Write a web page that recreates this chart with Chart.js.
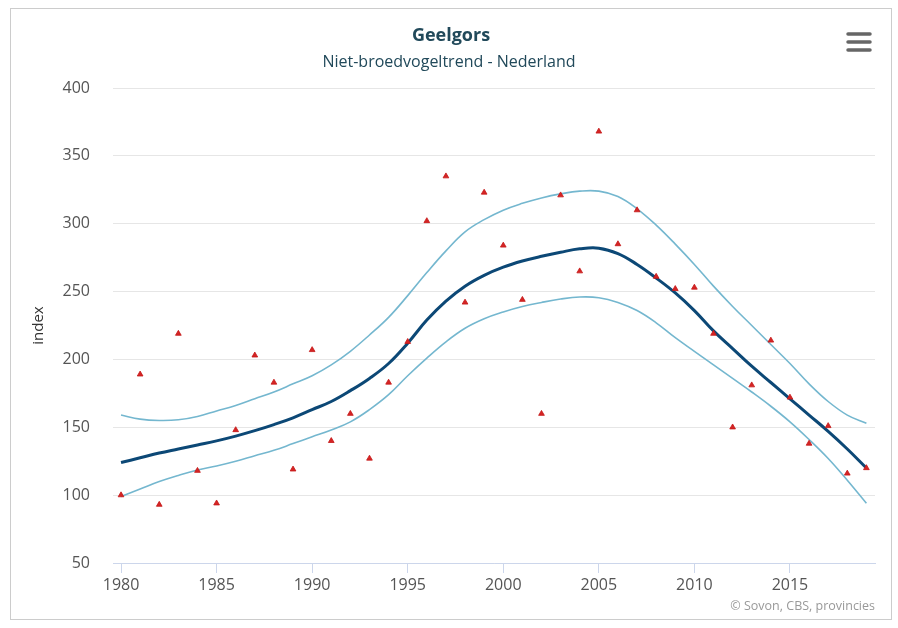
<!DOCTYPE html>
<html lang="nl">
<head>
<meta charset="utf-8">
<title>Geelgors - Niet-broedvogeltrend - Nederland</title>
<script src="https://cdn.jsdelivr.net/npm/chart.js@4/dist/chart.umd.min.js"></script>
<style>
  html, body { margin: 0; padding: 0; background: #ffffff; }
  #chartBox { position: relative; width: 898px; height: 628px; }
</style>
</head>
<body>
<div id="chartBox"><canvas id="trendChart" width="898" height="628"></canvas></div>
<script>
// Telseizoenen
const years = [
  1980, 1981, 1982, 1983, 1984, 1985, 1986, 1987, 1988, 1989,
  1990, 1991, 1992, 1993, 1994, 1995, 1996, 1997, 1998, 1999,
  2000, 2001, 2002, 2003, 2004, 2005, 2006, 2007, 2008, 2009,
  2010, 2011, 2012, 2013, 2014, 2015, 2016, 2017, 2018, 2019
];

// Jaarindex (1980 = 100)
const yearlyIndex = [
  100, 189, 93, 219, 118, 94, 148, 203, 183, 119,
  207, 140, 160, 127, 183, 213, 302, 335, 242, 323,
  284, 244, 160, 321, 265, 368, 285, 310, 261, 252,
  253, 219, 150, 181, 214, 172, 138, 151, 116, 120
];

// Trendlijn
const trendIndex = [
  124, 127.5, 131, 134, 137, 140, 143.5, 147.5, 152, 157,
  163, 169, 177, 186, 197, 212, 229, 243, 254, 262,
  268, 272.5, 276, 279, 281.5, 282, 278, 270, 260, 249,
  236, 221, 208, 195, 183, 171, 159, 147, 134, 120
];

// Betrouwbaarheidsband
const upperBound = [
  159, 156, 155, 155.5, 158, 162, 166, 171, 176, 182,
  188, 196, 206, 218, 231, 247, 264, 280, 294, 303,
  310, 315, 319, 322, 324, 324, 320, 311, 299, 285,
  270, 254, 239, 225, 211, 197, 182, 169, 159, 153
];

const lowerBound = [
  99, 104.5, 110, 114.5, 118.5, 121.5, 125, 129, 133, 138,
  143, 148, 154, 163, 174, 188, 201, 213, 223, 230,
  235, 239, 242, 244.5, 246, 245.5, 242, 236, 227, 216,
  206, 196, 186, 176, 165.5, 154, 141, 127, 111, 94
];

const xTicks = [1980, 1985, 1990, 1995, 2000, 2005, 2010, 2015];
const yTicks = [50, 100, 150, 200, 250, 300, 350, 400];

const FONT = '"Open Sans", "Liberation Sans", Arial, sans-serif';
const TITLE_COLOR = '#21495a';
const LABEL_COLOR = '#555555';
const AXIS_COLOR = '#ccd6eb';
const GRID_COLOR = '#e6e6e6';

function toPoints(values) {
  return years.map((year, i) => ({ x: year, y: values[i] }));
}

/**
 * Frame, titles, export menu icon and credits
 */
const chartDecorations = {
  id: 'chartDecorations',
  beforeDraw(chart) {
    const ctx = chart.ctx;
    ctx.save();
    ctx.fillStyle = '#ffffff';
    ctx.fillRect(0, 0, chart.width, chart.height);
    ctx.strokeStyle = '#cccccc';
    ctx.lineWidth = 1;
    ctx.strokeRect(10.5, 8.5, 881, 611);
    ctx.restore();
  },
  afterDraw(chart) {
    const ctx = chart.ctx;
    ctx.save();
    ctx.textAlign = 'center';
    ctx.textBaseline = 'alphabetic';
    ctx.fillStyle = TITLE_COLOR;
    ctx.font = 'bold 18px ' + FONT;
    ctx.fillText('Geelgors', 451, 41);
    ctx.font = '16px ' + FONT;
    ctx.fillText('Niet-broedvogeltrend - Nederland', 449, 67);

    // hamburger menu
    ctx.strokeStyle = '#666666';
    ctx.lineWidth = 3.5;
    ctx.lineCap = 'round';
    [34, 42, 50].forEach(y => {
      ctx.beginPath();
      ctx.moveTo(848, y);
      ctx.lineTo(870, y);
      ctx.stroke();
    });

    ctx.textAlign = 'right';
    ctx.fillStyle = '#999999';
    ctx.font = '12.5px ' + FONT;
    ctx.fillText('\u00a9 Sovon, CBS, provincies', 875, 610);
    ctx.restore();
  }
};

const lineDefaults = {
  pointRadius: 0,
  pointHoverRadius: 0,
  fill: false,
  tension: 0.4
};

const config = {
  type: 'line',
  data: {
    datasets: [
      {
        label: 'Index',
        data: toPoints(yearlyIndex),
        showLine: false,
        pointStyle: 'triangle',
        pointRadius: 3.3,
        pointHoverRadius: 4.5,
        pointBackgroundColor: '#d52424',
        pointBorderColor: '#c41616',
        pointBorderWidth: 0.8,
        order: 0
      },
      Object.assign({
        label: 'Trend',
        data: toPoints(trendIndex),
        borderColor: '#0c4876',
        borderWidth: 3,
        order: 1
      }, lineDefaults),
      Object.assign({
        label: 'Bovengrens',
        data: toPoints(upperBound),
        borderColor: '#74b7cf',
        borderWidth: 1.6,
        order: 2
      }, lineDefaults),
      Object.assign({
        label: 'Ondergrens',
        data: toPoints(lowerBound),
        borderColor: '#74b7cf',
        borderWidth: 1.6,
        order: 2
      }, lineDefaults)
    ]
  },
  options: {
    responsive: false,
    animation: false,
    devicePixelRatio: 1,
    layout: { padding: { top: 88, right: 23, bottom: 0, left: 0 } },
    plugins: {
      legend: { display: false },
      title: { display: false },
      tooltip: { enabled: true }
    },
    scales: {
      x: {
        type: 'linear',
        min: 1979.58,
        max: 2019.45,
        afterBuildTicks: scale => { scale.ticks = xTicks.map(v => ({ value: v })); },
        afterFit: scale => { scale.height = 65; },
        ticks: {
          color: LABEL_COLOR,
          font: { family: FONT, size: 16 },
          padding: 3,
          maxRotation: 0,
          callback: value => String(value)
        },
        grid: {
          drawOnChartArea: false,
          drawTicks: true,
          tickLength: 10,
          color: AXIS_COLOR
        },
        border: { display: true, color: AXIS_COLOR, width: 1 }
      },
      y: {
        min: 50,
        max: 400,
        afterBuildTicks: scale => { scale.ticks = yTicks.map(v => ({ value: v })); },
        afterFit: scale => { scale.width = 113; },
        ticks: {
          color: LABEL_COLOR,
          font: { family: FONT, size: 16 },
          padding: 23
        },
        grid: {
          color: GRID_COLOR,
          drawTicks: false
        },
        border: { display: false },
        title: {
          display: true,
          text: 'index',
          color: '#333333',
          font: { family: FONT, size: 15 },
          padding: { top: 30, bottom: 0 }
        }
      }
    }
  },
  plugins: [chartDecorations]
};

new Chart(document.getElementById('trendChart'), config);
</script>
</body>
</html>
